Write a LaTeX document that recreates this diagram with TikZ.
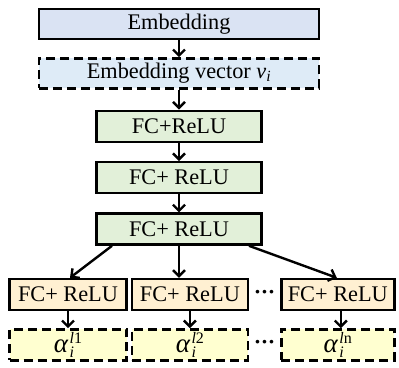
\documentclass[tikz,border=0pt]{standalone}
\usepackage{fontspec}
\setmainfont{Liberation Serif}
\usepackage{tikz}
\usetikzlibrary{positioning, calc, arrows.meta}

\definecolor{embblue}{HTML}{DAE3F3}
\definecolor{vecblue}{HTML}{DEEBF7}
\definecolor{fcgreen}{HTML}{E2F0D9}
\definecolor{outorange}{HTML}{FFF0D2}
\definecolor{alphayellow}{HTML}{FFFFD0}

\newcommand{\alphasym}[1]{{\fontsize{27}{30}\selectfont\textit{α}}\kern0.05em%
  \rlap{\raisebox{-5pt}{\fontsize{16}{18}\selectfont\textit{i}}}%
  \raisebox{9pt}{\fontsize{16}{18}\selectfont #1}}
\newcommand{\hdots}{\raisebox{-0.12em}{\textbf{·\kern-0.02em·\kern-0.02em·}}}

\begin{document}
\begin{tikzpicture}[
font=\fontsize{22.3}{26}\selectfont,
mybox/.style={rectangle,
  draw=black,
  line width=2.4pt,
  inner sep=0pt,
  align=center,
},
embbox/.style={mybox, fill=embblue, minimum width=280pt, minimum height=30pt},
vecbox/.style={mybox, fill=vecblue, dash pattern=on 9pt off 5pt, minimum width=280pt, minimum height=30pt},
fcbox/.style={mybox, fill=fcgreen, minimum width=165pt, minimum height=31pt},
outbox/.style={mybox, fill=outorange, minimum height=31pt},
alphabox/.style={mybox, fill=alphayellow, dash pattern=on 9pt off 5pt, minimum height=31pt},
myarrow/.style={line width=2.4pt, -{Straight Barb[length=6pt,width=12pt,line width=2.4pt]}},
]
\useasboundingbox (0,0) rectangle (399pt,-367pt);

\node[embbox] (emb) at (179pt,-24pt)
    {Embedding};
\node[vecbox, below= 17pt of emb] (vec)
    {Embedding vector \textit{v}\textsubscript{\textit{i}}};
\node[fcbox, below= 20pt of vec] (fca)
    {FC+ReLU};
\node[fcbox, below= 18pt of fca] (fcb)
    {FC+ ReLU};
\node[fcbox, below= 18pt of fcb] (fcc)
    {FC+ ReLU};

\node[outbox, minimum width=117pt] (outa) at (68pt,-294.5pt)
    {FC+ ReLU};
\node[outbox, minimum width=116pt, right= 3pt of outa] (outb)
    {FC+ ReLU};
\node[outbox, minimum width=113pt, right= 31pt of outb] (outc)
    {FC+ ReLU};

\node[alphabox, minimum width=117pt, below= 17pt of outa] (alpa)
    {\alphasym{\textit{l}1}};
\node[alphabox, minimum width=116pt, below= 17pt of outb] (alpb)
    {\alphasym{\textit{l}2}};
\node[alphabox, minimum width=113pt, below= 17pt of outc] (alpc)
    {\alphasym{\textit{l}n}};

\node[inner sep=0pt] (dotsa) at ($(outb.east)!0.5!(outc.west)$)
    {\hdots};
\node[inner sep=0pt] (dotsb) at ($(alpb.east)!0.5!(alpc.west)$)
    {\hdots};

\draw[myarrow] (emb.south) -- (vec.north);
\draw[myarrow] (vec.south) -- (fca.north);
\draw[myarrow] (fca.south) -- (fcb.north);
\draw[myarrow] (fcb.south) -- (fcc.north);

\draw[myarrow] ([xshift=-67pt]fcc.south) -- ([xshift=2pt]outa.north);
\draw[myarrow] (fcc.south) -- (fcc.south |- outb.north);
\draw[myarrow] ([xshift=70pt]fcc.south) -- ([xshift=-1pt]outc.north);

\draw[myarrow] (outa.south) -- (alpa.north);
\draw[myarrow] (outb.south) -- (alpb.north);
\draw[myarrow] ([xshift=3pt]outc.south) -- ([xshift=3pt]alpc.north);
\end{tikzpicture}
\end{document}
